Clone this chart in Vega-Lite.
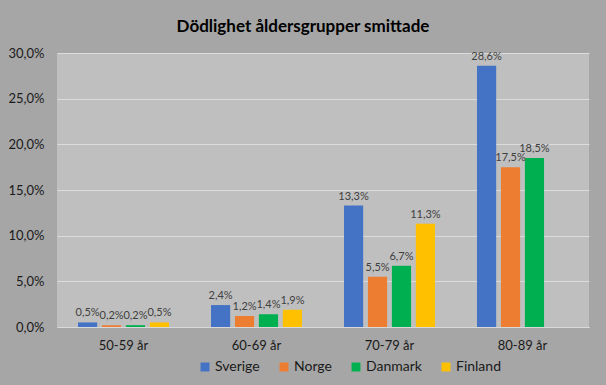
{
  "$schema": "https://vega.github.io/schema/vega-lite/v6.json",
  "width": 532,
  "height": 274,
  "autosize": {"type": "none"},
  "padding": {"left": 57, "top": 53, "right": 17, "bottom": 58},
  "background": "#A6A6A6",
  "title": {
    "text": "Dödlighet åldersgrupper smittade",
    "anchor": "middle",
    "dx": -20,
    "offset": 11,
    "fontSize": 17,
    "fontWeight": "bold",
    "font": "Lato",
    "color": "#000000"
  },
  "data": {
    "values": [
      {"group": "50-59 år", "country": "Sverige", "value": 0.005},
      {"group": "50-59 år", "country": "Norge", "value": 0.002},
      {"group": "50-59 år", "country": "Danmark", "value": 0.002},
      {"group": "50-59 år", "country": "Finland", "value": 0.005},
      {"group": "60-69 år", "country": "Sverige", "value": 0.024},
      {"group": "60-69 år", "country": "Norge", "value": 0.012},
      {"group": "60-69 år", "country": "Danmark", "value": 0.014},
      {"group": "60-69 år", "country": "Finland", "value": 0.019},
      {"group": "70-79 år", "country": "Sverige", "value": 0.133},
      {"group": "70-79 år", "country": "Norge", "value": 0.055},
      {"group": "70-79 år", "country": "Danmark", "value": 0.067},
      {"group": "70-79 år", "country": "Finland", "value": 0.113},
      {"group": "80-89 år", "country": "Sverige", "value": 0.286},
      {"group": "80-89 år", "country": "Norge", "value": 0.175},
      {"group": "80-89 år", "country": "Danmark", "value": 0.185}
    ]
  },
  "encoding": {
    "x": {
      "field": "group",
      "type": "nominal",
      "sort": null,
      "scale": {"paddingInner": 0.28, "paddingOuter": 0.14},
      "axis": {
        "title": null,
        "labelAngle": 0,
        "ticks": false,
        "domainColor": "#D9D9D9",
        "labelPadding": 12,
        "labelFontSize": 13,
        "labelFont": "Lato",
        "labelColor": "#1a1a1a"
      }
    },
    "xOffset": {
      "field": "country",
      "type": "nominal",
      "sort": ["Sverige", "Norge", "Danmark", "Finland"],
      "scale": {"domain": ["Sverige", "Norge", "Danmark", "Finland"], "paddingInner": 0.2, "paddingOuter": 0.1}
    },
    "y": {
      "field": "value",
      "type": "quantitative",
      "scale": {"domain": [0, 0.3], "nice": false},
      "axis": {
        "title": null,
        "format": ".1%",
        "values": [0, 0.05, 0.1, 0.15, 0.2, 0.25, 0.3],
        "labelOverlap": false,
        "ticks": false,
        "domain": false,
        "labelPadding": 13,
        "labelFontSize": 13,
        "labelFont": "Lato",
        "labelColor": "#1a1a1a",
        "gridColor": "#DCDCDC",
        "gridWidth": 1
      }
    }
  },
  "layer": [
    {
      "mark": {"type": "bar"},
      "encoding": {
        "color": {
          "field": "country",
          "type": "nominal",
          "scale": {
            "domain": ["Sverige", "Norge", "Danmark", "Finland"],
            "range": ["#4472C4", "#ED7D31", "#00B050", "#FFC000"]
          },
          "legend": {
            "title": null,
            "orient": "none",
            "direction": "horizontal",
            "legendX": 141,
            "legendY": 307,
            "symbolType": "square",
            "symbolSize": 80,
            "symbolStrokeWidth": 0,
            "labelFontSize": 14,
            "labelFont": "Lato",
            "labelColor": "#1a1a1a",
            "labelOffset": 3,
            "columnPadding": 17
          }
        }
      }
    },
    {
      "mark": {"type": "text", "baseline": "bottom", "dy": -4, "fontSize": 11, "font": "Lato", "color": "#404040"},
      "encoding": {
        "text": {"field": "value", "type": "quantitative", "format": ".1%"}
      }
    }
  ],
  "config": {
    "locale": {
      "number": {"decimal": ",", "thousands": " ", "grouping": [3], "currency": ["", " kr"]}
    },
    "view": {"fill": "#BFBFBF", "stroke": null}
  }
}
